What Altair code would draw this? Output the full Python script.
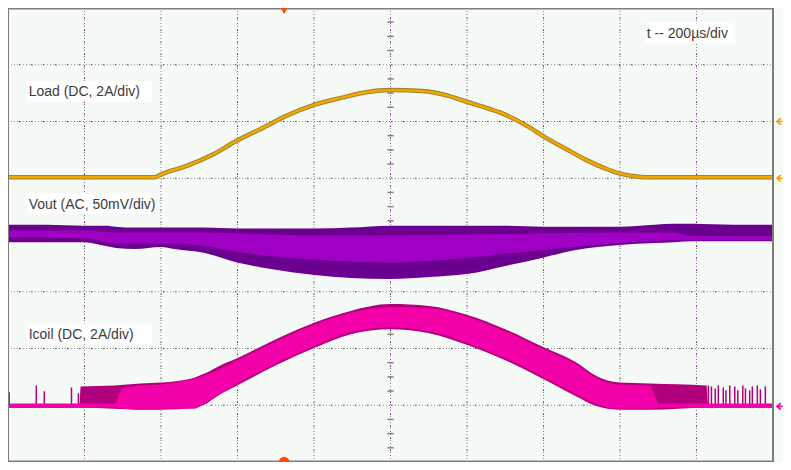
import altair as alt
import pandas as pd

# ---------------- data (time in µs, 200 µs/div; vertical in screen divisions 0..8) ----------------
load_t = [0, 200, 384, 402, 469, 538, 599, 666, 725, 802, 871, 940, 1001, 1083, 1152, 1199, 1255,
          1298, 1357, 1401, 1460, 1511, 1562, 1598, 1639, 1665, 1793, 2000]
load_y = [5.017, 5.017, 5.017, 5.073, 5.222, 5.427, 5.666, 5.887, 6.092, 6.297, 6.416, 6.519, 6.553,
          6.536, 6.451, 6.348, 6.229, 6.126, 5.922, 5.734, 5.512, 5.324, 5.171, 5.085, 5.034, 5.017,
          5.017, 5.017]

vout_t = [0, 102, 200, 256, 282, 333, 400, 435, 512, 599, 691, 802, 896, 999, 1101, 1199, 1306,
          1398, 1485, 1598, 1690, 1741, 1793, 1895, 2000]
vout_hi = [4.181, 4.181, 4.164, 4.164, 4.147, 4.130, 4.130, 4.130, 4.130, 4.113, 4.113, 4.113, 4.130,
           4.164, 4.164, 4.164, 4.164, 4.147, 4.147, 4.147, 4.181, 4.198, 4.198, 4.181, 4.181]
vout_lo = [3.874, 3.874, 3.874, 3.805, 3.771, 3.754, 3.790, 3.754, 3.686, 3.515, 3.396, 3.294, 3.242,
           3.225, 3.259, 3.311, 3.464, 3.601, 3.737, 3.823, 3.857, 3.874, 3.891, 3.891, 3.891]
vout_core_t = [0, 200, 282, 400, 512, 599, 802, 999, 1199, 1398, 1598, 1741, 1793, 2000]
vout_core_hi = [4.078, 4.078, 4.044, 4.044, 4.044, 4.027, 3.993, 3.993, 4.010, 4.027, 4.044, 4.044,
                3.976, 3.976]
vout_core_lo = [3.959, 3.942, 3.857, 3.857, 3.805, 3.703, 3.567, 3.515, 3.601, 3.737, 3.857, 3.908,
                3.908, 3.908]

icoil_t = [0, 187, 190, 277, 346, 400, 487, 512, 551, 599, 691, 802, 896, 999, 1101, 1199, 1306,
           1398, 1485, 1537, 1598, 1677, 1826, 1830, 2000]
icoil_hi = [1.024, 1.024, 1.331, 1.348, 1.382, 1.399, 1.485, 1.553, 1.689, 1.826, 2.133, 2.457, 2.662,
            2.782, 2.747, 2.594, 2.321, 2.031, 1.758, 1.519, 1.399, 1.382, 1.348, 1.024, 1.024]
icoil_lo = [0.956, 0.956, 0.956, 0.939, 0.922, 0.922, 0.956, 1.007, 1.177, 1.348, 1.672, 2.014, 2.253,
            2.338, 2.270, 2.065, 1.775, 1.468, 1.160, 0.990, 0.922, 0.922, 0.956, 0.956, 0.956]
icoil_core_t = [0, 277, 300, 346, 400, 487, 512, 599, 691, 802, 896, 999, 1101, 1199, 1306, 1398,
                1485, 1537, 1598, 1677, 1703, 2000]
icoil_core_hi = [1.032, 1.032, 1.300, 1.348, 1.365, 1.470, 1.519, 1.792, 2.099, 2.423, 2.628, 2.730,
                 2.713, 2.560, 2.287, 1.997, 1.724, 1.485, 1.365, 1.348, 1.032, 1.032]
icoil_core_lo = [0.956, 0.956, 0.939, 0.922, 0.939, 0.939, 1.024, 1.382, 1.706, 2.048, 2.287, 2.372,
                 2.304, 2.099, 1.809, 1.502, 1.195, 1.024, 0.939, 0.939, 0.956, 0.956]
spike_t = [3, 74, 95, 166, 184, 1831, 1839, 1849, 1857, 1870, 1877, 1887, 1900, 1908, 1921, 1928,
           1939, 1946, 1959, 1967, 1980]
spike_top = [1.229, 1.348, 1.246, 1.314, 1.212, 1.348, 1.331, 1.297, 1.348, 1.314, 1.263, 1.348,
             1.331, 1.263, 1.348, 1.297, 1.263, 1.331, 1.348, 1.280, 1.331]

grid_t = [200, 400, 600, 800, 1000, 1200, 1400, 1600, 1800]
grid_y = [1, 2, 3, 4, 5, 6, 7]
minor_y = [0.25, 0.5, 0.75, 1.25, 1.5, 1.75, 2.25, 2.5, 2.75, 3.25, 3.5, 3.75, 4.25, 4.5, 4.75,
           5.25, 5.5, 5.75, 6.25, 6.5, 6.75, 7.25, 7.5, 7.75]

labels = ["Load (DC, 2A/div)", "Vout (AC, 50mV/div)", "Icoil (DC, 2A/div)"]
label_y = [6.53, 4.55, 2.26]
time_label = "t -- 200µs/div"

ref_levels = [6.0, 5.0, 0.98]
ref_colors = ["#f0a000", "#f0a000", "#e800a0"]
trigger_t = 722

# ---------------- chart ----------------
W, H = 765, 454
BG = "#f5faf7"
X = alt.Scale(domain=[0, 2000], nice=False, zero=False)
Y = alt.Scale(domain=[0, 8], nice=False, zero=False)


def xq(f):
    return alt.X(f, type="quantitative", scale=X, axis=None)


def yq(f):
    return alt.Y(f, type="quantitative", scale=Y, axis=None)


def x2(f):
    return alt.X2(f)


def y2(f):
    return alt.Y2(f)


vgrid = pd.DataFrame({"t": grid_t, "a": 0.0, "b": 8.0})
hgrid = pd.DataFrame({"y": grid_y, "a": 0.0, "b": 2000.0})
minor = pd.DataFrame({"y": minor_y, "a": 992.0, "b": 1008.0})

grid_layers = [
    alt.Chart(vgrid).mark_rule(color="#8a8a8a", strokeWidth=1, strokeDash=[1, 2]).encode(
        x=xq("t"), y=yq("a"), y2=y2("b")),
    alt.Chart(vgrid).mark_rule(color="#7a1690", strokeWidth=1, strokeDash=[1, 11],
                               strokeDashOffset=1).encode(
        x=xq("t"), y=yq("a"), y2=y2("b")),
    alt.Chart(hgrid).mark_rule(color="#8a8a8a", strokeWidth=1, strokeDash=[1, 2]).encode(
        y=yq("y"), x=xq("a"), x2=x2("b")),
    alt.Chart(hgrid).mark_rule(color="#7a1690", strokeWidth=1, strokeDash=[1, 11],
                               strokeDashOffset=1).encode(
        y=yq("y"), x=xq("a"), x2=x2("b")),
    alt.Chart(minor).mark_rule(color="#808080", strokeWidth=1.5).encode(
        y=yq("y"), x=xq("a"), x2=x2("b")),
]

vout = pd.DataFrame({"t": vout_t, "hi": vout_hi, "lo": vout_lo})
vout_core = pd.DataFrame({"t": vout_core_t, "hi": vout_core_hi, "lo": vout_core_lo})
icoil = pd.DataFrame({"t": icoil_t, "hi": icoil_hi, "lo": icoil_lo})
icoil_core = pd.DataFrame({"t": icoil_core_t, "hi": icoil_core_hi, "lo": icoil_core_lo})
spikes = pd.DataFrame({"t": spike_t, "top": spike_top, "base": 1.0})
load = pd.DataFrame({"t": load_t, "y": load_y})

SMOOTH = "monotone"
trace_layers = [
    alt.Chart(vout).mark_area(color="#6c008e", opacity=1, interpolate=SMOOTH).encode(
        x=xq("t"), y=yq("hi"), y2=y2("lo")),
    alt.Chart(vout_core).mark_area(color="#a000c4", opacity=1, interpolate=SMOOTH).encode(
        x=xq("t"), y=yq("hi"), y2=y2("lo")),
    alt.Chart(icoil).mark_area(color="#b0007c", opacity=1, interpolate=SMOOTH).encode(
        x=xq("t"), y=yq("hi"), y2=y2("lo")),
    alt.Chart(spikes).mark_rule(color="#b0007c", strokeWidth=1.5).encode(
        x=xq("t"), y=yq("top"), y2=y2("base")),
    alt.Chart(icoil_core).mark_area(color="#f200a8", opacity=1, interpolate=SMOOTH).encode(
        x=xq("t"), y=yq("hi"), y2=y2("lo")),
    alt.Chart(load).mark_line(color="#9c8430", strokeWidth=4.5, interpolate=SMOOTH).encode(
        x=xq("t"), y=yq("y")),
    alt.Chart(load).mark_line(color="#f7a800", strokeWidth=2.4, interpolate=SMOOTH).encode(
        x=xq("t"), y=yq("y")),
]

lab = pd.DataFrame({"label": labels, "y": label_y, "x0": 51.0, "x1": 376.0, "xt": 54.0})
lab["y0"] = lab["y"] - 0.18
lab["y1"] = lab["y"] + 0.18
tlab = pd.DataFrame({"label": [time_label], "y": [7.555], "x0": [1667.0], "x1": [1900.0],
                     "xt": [1670.0]})
tlab["y0"] = tlab["y"] - 0.175
tlab["y1"] = tlab["y"] + 0.175

text_layers = []
for df in (lab, tlab):
    text_layers.append(alt.Chart(df).mark_rect(color="white").encode(
        x=xq("x0"), x2=x2("x1"), y=yq("y0"), y2=y2("y1")))
    text_layers.append(alt.Chart(df).mark_text(
        align="left", baseline="middle", font="Liberation Sans", fontSize=14,
        color="#3c3c3c", dy=1).encode(x=xq("xt"), y=yq("y"), text="label:N"))

refs = pd.DataFrame({"y": ref_levels, "c": ref_colors, "x": 2012.0})
trig = pd.DataFrame({"t": [trigger_t], "bot": [0.0], "top": [7.96]})
marker_layers = [
    alt.Chart(trig).mark_point(shape="circle", filled=True, size=110, color="#ff4a00",
                               opacity=1).encode(x=xq("t"), y=yq("bot")),
    alt.Chart(trig).mark_point(shape="triangle-down", filled=True, size=70, color="#ff4a00",
                               opacity=1).encode(x=xq("t"), y=yq("top")),
    alt.Chart(refs).mark_point(shape="M1,-1 L-0.2,0 L1,1 M-0.2,0 L1.6,0", filled=False,
                               size=40, strokeWidth=1.6, opacity=1).encode(
        x=xq("x"), y=yq("y"), stroke=alt.Stroke("c:N", scale=None, legend=None)),
]

hb = pd.DataFrame({"y": [0.0, 8.0], "a": 0.0, "b": 2000.0})
vb = pd.DataFrame({"t": [0.0, 2000.0], "a": 0.0, "b": 8.0})
border_layers = [
    alt.Chart(hb).mark_rule(color="#7d7d7d", strokeWidth=3).encode(
        y=yq("y"), x=xq("a"), x2=x2("b")),
    alt.Chart(vb).mark_rule(color="#7d7d7d", strokeWidth=2).encode(
        x=xq("t"), y=yq("a"), y2=y2("b")),
]

chart = alt.layer(*grid_layers, *trace_layers, *text_layers, *border_layers,
                  *marker_layers).properties(
    width=W, height=H, autosize="none",
    padding={"left": 0, "top": 0, "right": 10, "bottom": 0},
    background=BG,
).configure_view(stroke=None, fill=BG)

chart.save("out.html", embed_options={"renderer": "svg", "actions": False})
